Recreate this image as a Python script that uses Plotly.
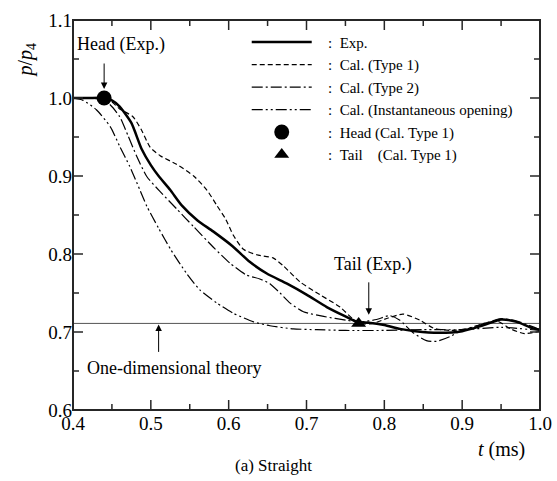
import plotly.graph_objects as go

# ---------------- data ----------------
t_exp = [0.40, 0.42, 0.44, 0.45, 0.46, 0.475, 0.488, 0.50, 0.51, 0.525, 0.54, 0.56,
         0.58, 0.605, 0.627, 0.649, 0.675, 0.70, 0.726, 0.75, 0.765, 0.78, 0.80,
         0.82, 0.84, 0.87, 0.90, 0.925, 0.95, 0.97, 0.99, 1.0]
p_exp = [1.0, 1.0, 1.0, 0.997, 0.989, 0.968, 0.935, 0.914, 0.900, 0.882, 0.862, 0.843,
         0.829, 0.810, 0.790, 0.775, 0.762, 0.748, 0.732, 0.720, 0.713, 0.712, 0.709,
         0.704, 0.701, 0.699, 0.701, 0.708, 0.716, 0.713, 0.705, 0.703]

t_type1 = [0.40, 0.44, 0.45, 0.46, 0.477, 0.488, 0.499, 0.512, 0.533, 0.555, 0.572,
           0.585, 0.596, 0.606, 0.619, 0.636, 0.657, 0.670, 0.692, 0.717, 0.743,
           0.767, 0.785, 0.805, 0.824, 0.846, 0.863, 0.884, 0.906, 0.928, 0.945,
           0.962, 0.98, 1.0]
p_type1 = [1.0, 1.0, 0.995, 0.986, 0.976, 0.959, 0.937, 0.926, 0.915, 0.900, 0.882,
           0.862, 0.845, 0.824, 0.806, 0.799, 0.795, 0.785, 0.764, 0.748, 0.732,
           0.711, 0.711, 0.718, 0.723, 0.715, 0.705, 0.702, 0.704, 0.711, 0.714,
           0.704, 0.698, 0.701]

t_type2 = [0.40, 0.42, 0.43, 0.44, 0.448, 0.46, 0.471, 0.482, 0.495, 0.512, 0.533,
           0.555, 0.58, 0.602, 0.623, 0.64, 0.653, 0.666, 0.679, 0.696, 0.722, 0.752,
           0.77, 0.79, 0.807, 0.82, 0.837, 0.854, 0.867, 0.884, 0.901, 0.923, 0.949,
           0.97, 1.0]
p_type2 = [1.0, 1.0, 0.999, 0.996, 0.991, 0.976, 0.951, 0.925, 0.899, 0.880, 0.858,
           0.835, 0.809, 0.788, 0.773, 0.768, 0.762, 0.750, 0.737, 0.726, 0.720, 0.715,
           0.713, 0.716, 0.721, 0.715, 0.699, 0.689, 0.688, 0.694, 0.703, 0.709, 0.717,
           0.714, 0.703]

t_inst = [0.40, 0.413, 0.43, 0.448, 0.46, 0.473, 0.486, 0.495, 0.51, 0.526, 0.546,
          0.563, 0.585, 0.606, 0.632, 0.653, 0.683, 0.713, 0.75, 0.80, 0.85, 0.90,
          0.95, 1.0]
p_inst = [1.0, 0.997, 0.985, 0.963, 0.938, 0.912, 0.882, 0.861, 0.833, 0.805, 0.775,
          0.754, 0.737, 0.724, 0.713, 0.708, 0.704, 0.703, 0.702, 0.702, 0.703, 0.703,
          0.706, 0.702]

head_t, head_p = [0.44], [1.0]
tail_t, tail_p = [0.767], [0.711]
theory_p = 0.711

x_range = [0.4, 1.0]
y_range = [0.6, 1.1]
x_ticks = [0.4, 0.5, 0.6, 0.7, 0.8, 0.9, 1.0]
y_ticks = [0.6, 0.7, 0.8, 0.9, 1.0, 1.1]
x_minor = [0.45, 0.55, 0.65, 0.75, 0.85, 0.95]
y_minor = [0.65, 0.75, 0.85, 0.95, 1.05]

NB = "\u00a0"
legend_names = [NB * 3 + ":" + NB * 2 + "Exp.",
                NB * 3 + ":" + NB * 2 + "Cal. (Type 1)",
                NB * 3 + ":" + NB * 2 + "Cal. (Type 2)",
                NB * 3 + ":" + NB * 2 + "Cal. (Instantaneous opening)",
                NB * 3 + ":" + NB * 2 + "Head (Cal. Type 1)",
                NB * 3 + ":" + NB * 2 + "Tail" + NB * 4 + "(Cal. Type 1)"]

FONT = "Liberation Serif"
FRAME = "#262626"
MAJOR_LEN, MINOR_LEN = 10, 6

fig = go.Figure()

# one-dimensional theory line
fig.add_trace(go.Scatter(x=x_range, y=[theory_p, theory_p], mode="lines",
                         line=dict(color="#555555", width=1), showlegend=False,
                         hoverinfo="skip"))

fig.add_trace(go.Scatter(x=t_exp, y=p_exp, mode="lines", name=legend_names[0],
                         line=dict(color="black", width=2.5, shape="spline", smoothing=0.6)))
fig.add_trace(go.Scatter(x=t_type1, y=p_type1, mode="lines", name=legend_names[1],
                         line=dict(color="black", width=1.2, dash="5px,3px",
                                   shape="spline", smoothing=0.6)))
fig.add_trace(go.Scatter(x=t_type2, y=p_type2, mode="lines", name=legend_names[2],
                         line=dict(color="black", width=1.2, dash="11px,3px,2px,3px",
                                   shape="spline", smoothing=0.6)))
fig.add_trace(go.Scatter(x=t_inst, y=p_inst, mode="lines", name=legend_names[3],
                         line=dict(color="black", width=1.2,
                                   dash="11px,3px,2px,3px,2px,3px",
                                   shape="spline", smoothing=0.6)))
fig.add_trace(go.Scatter(x=head_t, y=head_p, mode="markers", name=legend_names[4],
                         marker=dict(symbol="circle", size=15, color="black")))
fig.add_trace(go.Scatter(x=tail_t, y=tail_p, mode="markers", name=legend_names[5],
                         marker=dict(symbol="triangle-up", size=13, color="black")))


def make_axis(rng, ticks):
    return dict(range=rng, tickmode="array", tickvals=ticks,
                ticktext=[f"{v:.1f}" for v in ticks],
                showline=False, ticks="", showgrid=False, zeroline=False,
                automargin=False,
                tickfont=dict(family=FONT, size=19, color="black"))


# frame and inside ticks on all four sides, attached to the axes
tick_line = dict(color=FRAME, width=1.5)
shapes = [dict(type="rect", xref="paper", yref="paper", x0=0, y0=0, x1=1, y1=1,
               line=dict(color=FRAME, width=2), layer="above")]
for vals, ln in ((x_ticks, MAJOR_LEN), (x_minor, MINOR_LEN)):
    for v in vals:
        shapes.append(dict(type="line", xref="x", yref="paper", x0=v, x1=v,
                           ysizemode="pixel", yanchor=0, y0=0, y1=ln, line=tick_line))
        shapes.append(dict(type="line", xref="x", yref="paper", x0=v, x1=v,
                           ysizemode="pixel", yanchor=1, y0=0, y1=-ln, line=tick_line))
for vals, ln in ((y_ticks, MAJOR_LEN), (y_minor, MINOR_LEN)):
    for v in vals:
        shapes.append(dict(type="line", yref="y", xref="paper", y0=v, y1=v,
                           xsizemode="pixel", xanchor=0, x0=0, x1=ln, line=tick_line))
        shapes.append(dict(type="line", yref="y", xref="paper", y0=v, y1=v,
                           xsizemode="pixel", xanchor=1, x0=0, x1=-ln, line=tick_line))

ann_font = dict(family=FONT, size=18, color="black")
annotations = [
    # arrows
    dict(x=head_t[0], y=head_p[0], ax=0, ay=-36, text="", showarrow=True,
         arrowhead=2, arrowsize=1.3, arrowwidth=1, standoff=9, arrowcolor="black"),
    dict(x=0.78, y=0.722, ax=0, ay=-34, text="", showarrow=True,
         arrowhead=2, arrowsize=1.3, arrowwidth=1, standoff=0, arrowcolor="black"),
    dict(x=0.51, y=theory_p, ax=0, ay=30, text="", showarrow=True,
         arrowhead=2, arrowsize=1.3, arrowwidth=1, standoff=1, arrowcolor="black"),
    # texts
    dict(x=0.402, y=1.068, text="Head (Exp.)", showarrow=False, xanchor="left",
         yanchor="middle", font=ann_font),
    dict(x=0.786, y=0.787, text="Tail (Exp.)", showarrow=False, xanchor="center",
         yanchor="middle", font=ann_font),
    dict(x=0.416, y=0.654, text="One-dimensional theory", showarrow=False,
         xanchor="left", yanchor="middle", font=ann_font),
    # axis titles
    dict(xref="paper", yref="paper", x=-0.10, y=0.897, text="<i>p</i>/<i>p</i><sub>4</sub>",
         textangle=-90, showarrow=False, xanchor="center", yanchor="middle",
         font=dict(family=FONT, size=20, color="black")),
    dict(xref="paper", yref="paper", x=0.972, y=-0.10, text="<i>t</i> (ms)",
         showarrow=False, xanchor="right", yanchor="middle",
         font=dict(family=FONT, size=20, color="black")),
    dict(xref="paper", yref="paper", x=0.43, y=-0.143, text="(a) Straight",
         showarrow=False, xanchor="center", yanchor="middle",
         font=dict(family=FONT, size=17, color="black")),
]

fig.update_layout(
    template="none",
    width=557, height=481,
    margin=dict(l=73, r=17, t=20, b=71),
    paper_bgcolor="white", plot_bgcolor="white",
    xaxis=make_axis(x_range, x_ticks),
    yaxis=make_axis(y_range, y_ticks),
    shapes=shapes,
    annotations=annotations,
    legend=dict(x=0.372, y=0.985, xanchor="left", yanchor="top",
                bgcolor="rgba(0,0,0,0)", itemwidth=60,
                font=dict(family=FONT, size=15, color="black"),
                tracegroupgap=0),
    font=dict(family=FONT, color="black"),
)

fig.write_html("out.html")
